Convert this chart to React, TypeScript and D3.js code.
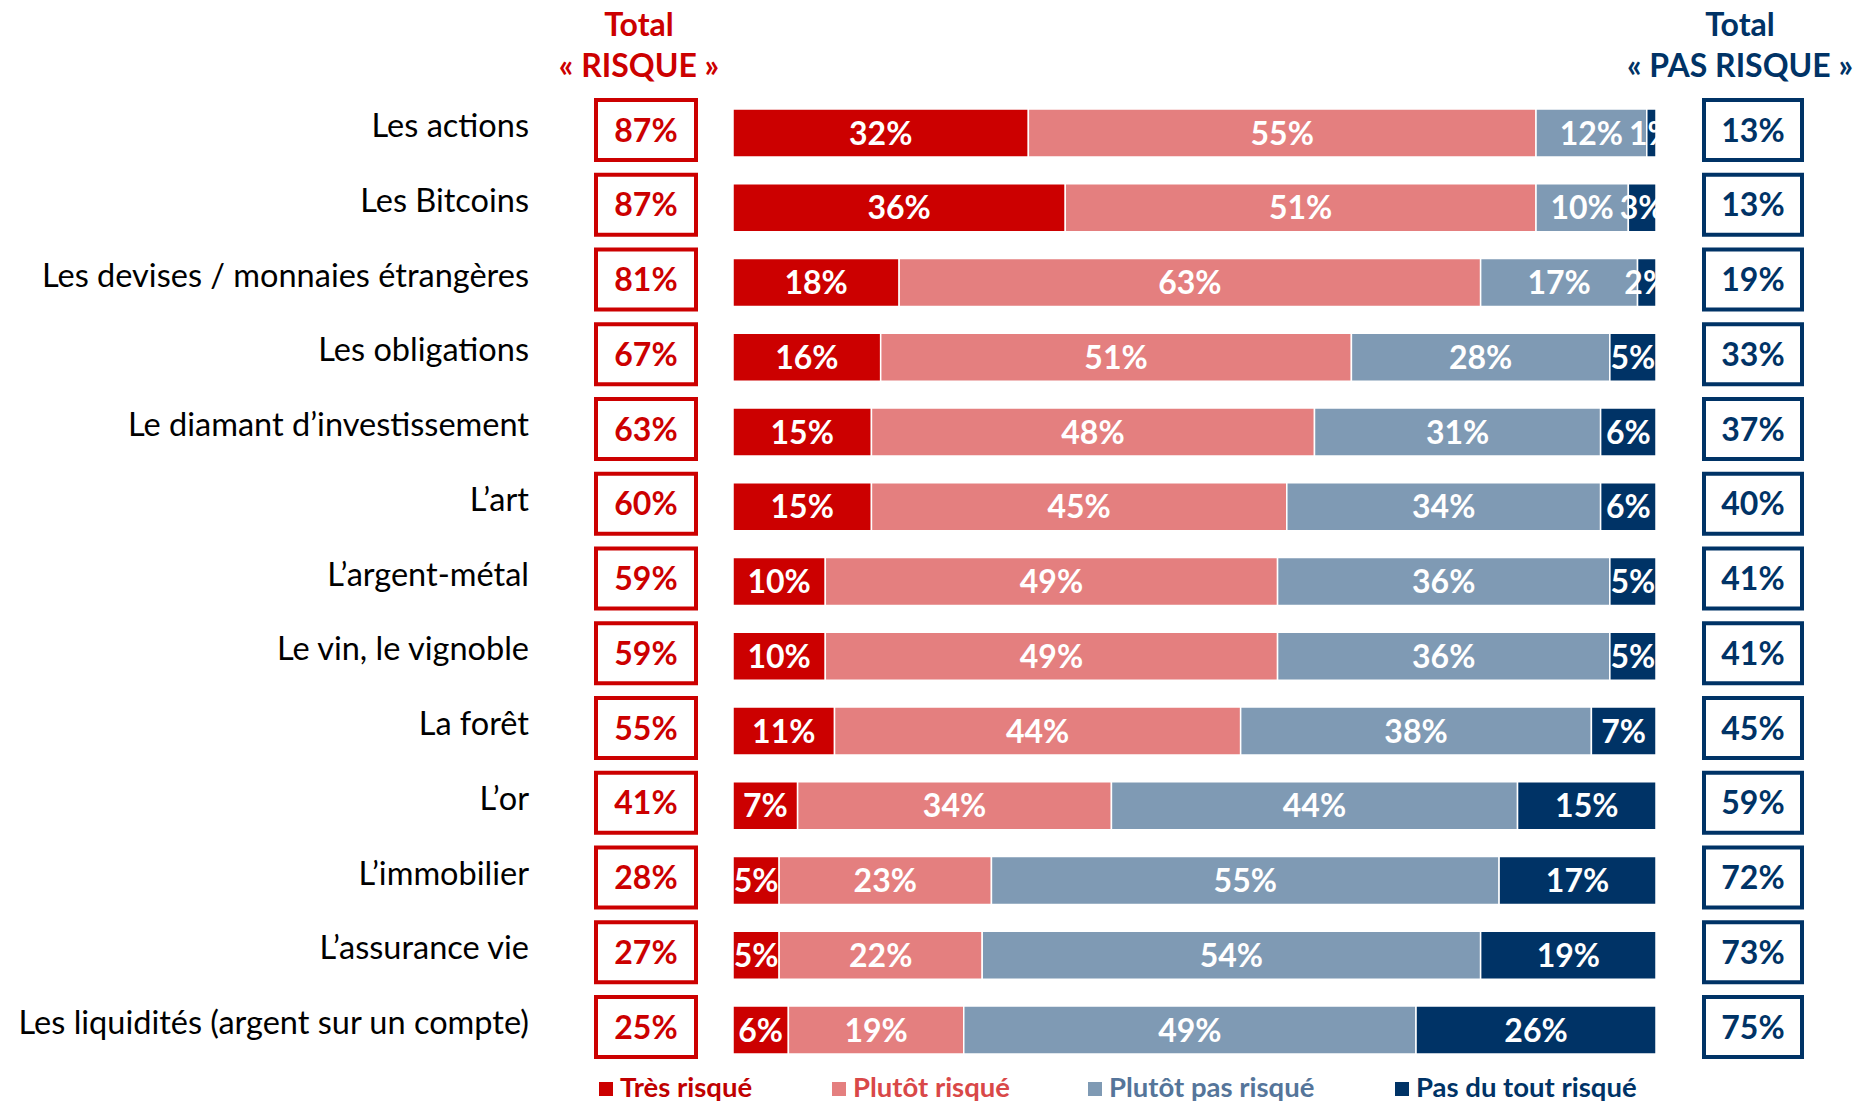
import React from 'react';
import * as d3 from 'd3';

// categories, top to bottom
const categories = [
  'Les actions',
  'Les Bitcoins',
  'Les devises / monnaies étrangères',
  'Les obligations',
  'Le diamant d’investissement',
  'L’art',
  'L’argent-métal',
  'Le vin, le vignoble',
  'La forêt',
  'L’or',
  'L’immobilier',
  'L’assurance vie',
  'Les liquidités (argent sur un compte)',
];

const tresRisque = [32, 36, 18, 16, 15, 15, 10, 10, 11, 7, 5, 5, 6];
const plutotRisque = [55, 51, 63, 51, 48, 45, 49, 49, 44, 34, 23, 22, 19];
const plutotPasRisque = [12, 10, 17, 28, 31, 34, 36, 36, 38, 44, 55, 54, 49];
const pasDuToutRisque = [1, 3, 2, 5, 6, 6, 5, 5, 7, 15, 17, 19, 26];

const totalRisque = [87, 87, 81, 67, 63, 60, 59, 59, 55, 41, 28, 27, 25];
const totalPasRisque = [13, 13, 19, 33, 37, 40, 41, 41, 45, 59, 72, 73, 75];

const seriesNames = ['Très risqué', 'Plutôt risqué', 'Plutôt pas risqué', 'Pas du tout risqué'];
const seriesColors = ['#CC0000', '#E47F7F', '#7F9AB4', '#003366'];
const legendTextColors = ['#C00000', '#D94848', '#55759A', '#003366'];

const RED = '#CC0000';
const NAVY = '#003366';
const FONT = 'Lato, "Open Sans", sans-serif';

const WIDTH = 1872;
const HEIGHT = 1105;

export default function App() {
  const series = [tresRisque, plutotRisque, plutotPasRisque, pasDuToutRisque];

  const x = d3.scaleLinear().domain([0, 100]).range([733, 1656]);
  const y = d3.scalePoint<string>().domain(categories).range([133, 1030]);
  const barH = 48;

  // stack the four series per category
  const table = categories.map((c, i) => {
    const row: any = { cat: c };
    seriesNames.forEach((s, k) => (row[s] = series[k][i]));
    return row;
  });
  const stacked = d3.stack<any>().keys(seriesNames)(table);

  const legendX = [599, 832, 1088, 1395];

  return (
    <svg
      width={WIDTH}
      height={HEIGHT}
      style={{ position: 'absolute', left: 0, top: 0, background: '#fff' }}
      fontFamily={FONT}
    >
      <defs>
        <clipPath id="plot">
          <rect x={x(0)} y={0} width={x(100) - x(0)} height={HEIGHT} />
        </clipPath>
      </defs>

      {/* headers */}
      <g fontWeight="bold" fontSize={32} textAnchor="middle">
        <text x={639} y={36} fill={RED}>Total</text>
        <text x={639} y={77} fill={RED}>« RISQUE »</text>
        <text x={1740} y={36} fill={NAVY}>Total</text>
        <text x={1740} y={77} fill={NAVY}>« PAS RISQUE »</text>
      </g>

      {/* category labels */}
      <g fontSize={32.5} textAnchor="end" fill="#000">
        {categories.map((c) => (
          <text key={c} x={529} y={(y(c) as number) + 4}>{c}</text>
        ))}
      </g>

      {/* stacked bars */}
      {stacked.map((layer, k) => (
        <g key={layer.key} fill={seriesColors[k]}>
          {layer.map((d, i) => (
            <rect
              key={i}
              x={x(d[0])}
              y={(y(categories[i]) as number) - barH / 2}
              width={x(d[1]) - x(d[0])}
              height={barH}
              stroke="#fff"
              strokeWidth={1.5}
            />
          ))}
        </g>
      ))}

      {/* bar labels */}
      <g clipPath="url(#plot)" fontWeight="bold" fontSize={32} fill="#fff" textAnchor="middle">
        {stacked.map((layer) =>
          layer.map((d, i) => (
            <text
              key={layer.key + i}
              x={x((d[0] + d[1]) / 2)}
              y={y(categories[i]) as number}
              dy="0.36em"
            >
              {d[1] - d[0]}%
            </text>
          ))
        )}
      </g>

      {/* total boxes */}
      {categories.map((c, i) => {
        const cy = (y(c) as number) - 3;
        return (
          <g key={c} fontWeight="bold" fontSize={32} textAnchor="middle">
            <rect x={596} y={cy - 30} width={100} height={60} fill="#fff" stroke={RED} strokeWidth={4} />
            <text x={646} y={cy} dy="0.36em" fill={RED}>{totalRisque[i]}%</text>
            <rect x={1704} y={cy - 30} width={98} height={60} fill="#fff" stroke={NAVY} strokeWidth={4} />
            <text x={1753} y={cy} dy="0.36em" fill={NAVY}>{totalPasRisque[i]}%</text>
          </g>
        );
      })}

      {/* legend */}
      <g fontWeight="bold" fontSize={27.5}>
        {seriesNames.map((s, k) => (
          <g key={s}>
            <rect x={legendX[k]} y={1082} width={14} height={14} fill={seriesColors[k]} />
            <text x={legendX[k] + 21} y={1097} fill={legendTextColors[k]}>{s}</text>
          </g>
        ))}
      </g>
    </svg>
  );
}
